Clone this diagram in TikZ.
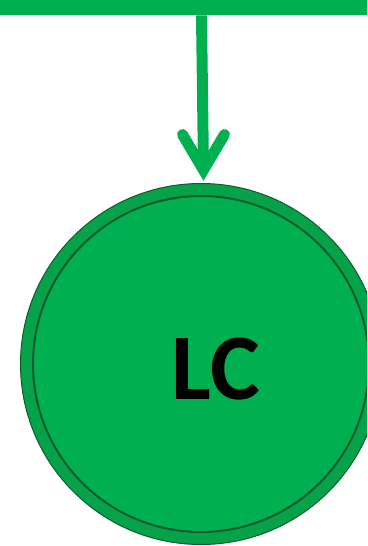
\documentclass[tikz,border=0pt]{standalone}
\usepackage{fontspec}
\setmainfont{Carlito}
\usetikzlibrary{calc}
\definecolor{lcgreen}{HTML}{00B050}
\definecolor{ringgreen}{HTML}{05A24A}
\definecolor{darkgreen}{HTML}{0B5C2B}
\tikzset{
  greenline/.style={draw=lcgreen, line width=11pt},
  chevron/.style={draw=lcgreen, line width=11pt, line cap=round, line join=miter},
}
\begin{document}
\begin{tikzpicture}[x=1pt,y=-1pt]
\useasboundingbox (0,0) rectangle (367,546);
\clip (0,0) rectangle (367,546);
\node[rectangle, fill=lcgreen, minimum width=367pt, minimum height=15pt, inner sep=0pt, anchor=north west] (bar) at (0,0) {};
\node[circle, fill=ringgreen, draw=darkgreen, line width=1pt, minimum size=361pt, inner sep=0pt] (lc) at (201,364) {};
\node[circle, fill=lcgreen, draw=darkgreen, line width=2pt, minimum size=336pt, inner sep=0pt] (lcin) at (lc.center) {};
\node[font=\bfseries\fontsize{94}{94}\selectfont, text=black, inner sep=0pt] (lbl) at (216,369) {LC};
\coordinate (tip) at ($(lc.north)+(2.5,-13)$);
\draw[greenline] (bar.south -| 201.5,0) -- (tip);
\draw[chevron] ($(tip)+(-21,-35.5)$) -- (tip) -- ($(tip)+(21,-35.5)$);
\end{tikzpicture}
\end{document}
